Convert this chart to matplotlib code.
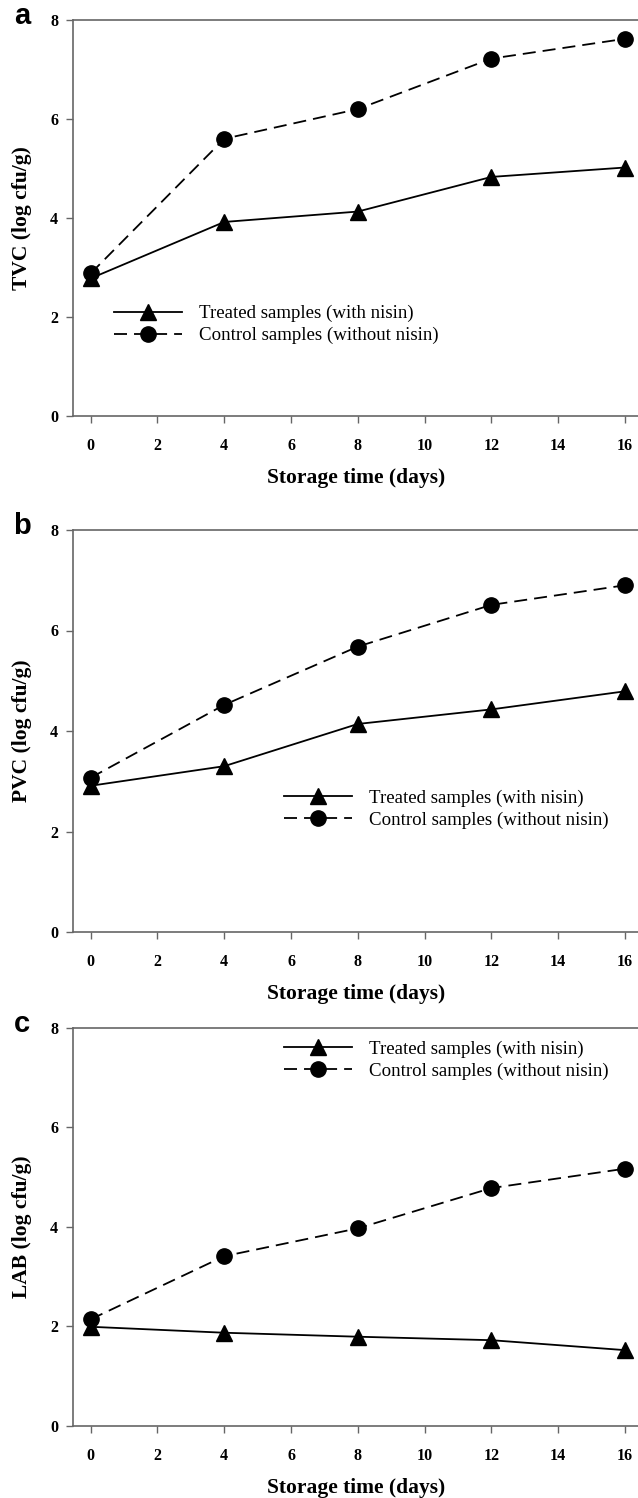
import numpy as np
import matplotlib.pyplot as plt

plt.rcParams['font.family'] = ['Liberation Serif', 'DejaVu Serif']

days = [0, 4, 8, 12, 16]

tvc_treated = [2.78, 3.92, 4.13, 4.83, 5.02]
tvc_control = [2.88, 5.60, 6.20, 7.22, 7.62]

pvc_treated = [2.91, 3.30, 4.14, 4.43, 4.79]
pvc_control = [3.07, 4.52, 5.68, 6.51, 6.90]

lab_treated = [1.99, 1.87, 1.79, 1.72, 1.52]
lab_control = [2.14, 3.41, 3.97, 4.78, 5.17]

panels = ['a', 'b', 'c']
ylabels = ['TVC (log cfu/g)', 'PVC (log cfu/g)', 'LAB (log cfu/g)']
xticks = [0, 2, 4, 6, 8, 10, 12, 14, 16]
yticks = [0, 2, 4, 6, 8]

W, H = 638, 1498


def panel(top, bottom, treated, control, letter, ylab, leg_xy):
    left = 73.3
    rect = [left / W, 1 - bottom / H, (W - left) / W, (bottom - top) / H]
    ax = fig.add_axes(rect)
    ax.plot(days, treated, '-', color='black', lw=1.3, marker='^', ms=11,
            label='Treated samples (with nisin)')
    ax.plot(days, control, '--', color='black', lw=1.3, marker='o', ms=11,
            dashes=(7.2, 3.9), label='Control samples (without nisin)')
    ax.set_xlim(-0.52, 16.39)
    ax.set_ylim(0, 8)
    ax.set_xticks(xticks)
    ax.set_yticks(yticks)
    ax.spines['right'].set_visible(False)
    for s in ['left', 'bottom', 'top']:
        ax.spines[s].set_color('#666666')
        ax.spines[s].set_linewidth(1.2)
    ax.tick_params(direction='out', length=5, width=1, color='#666666',
                   labelsize=11.5)
    ax.tick_params(axis='x', pad=11)
    ax.tick_params(axis='y', pad=6)
    for t in ax.get_xticklabels() + ax.get_yticklabels():
        t.set_fontweight('bold')
    ax.set_xlabel('Storage time (days)', fontsize=15.5, fontweight='bold',
                  va='center')
    ax.xaxis.set_label_coords(0.5, -62 / (bottom - top))
    ax.set_ylabel(ylab, fontsize=15.5, fontweight='bold', va='center')
    ax.yaxis.set_label_coords((22 - left) / (W - left), 0.5)
    ax.legend(loc='upper left', bbox_to_anchor=leg_xy, frameon=False,
              fontsize=13.6, handlelength=3.6, borderpad=0, borderaxespad=0,
              handletextpad=0.9, labelspacing=0.25)
    fig.text(22 / W, 1 - (top + 4) / H, letter, fontsize=21,
             fontweight='bold', family='Liberation Sans', ha='center',
             va='baseline')
    return ax


fig = plt.figure(figsize=(W / 100, H / 100), dpi=100)

panel(20, 416, tvc_treated, tvc_control, panels[0], ylabels[0], (0.072, 0.28))
panel(530, 932, pvc_treated, pvc_control, panels[1], ylabels[1], (0.373, 0.355))
panel(1028, 1425.7, lab_treated, lab_control, panels[2], ylabels[2], (0.373, 0.968))

fig.savefig('out.png', dpi=100)
